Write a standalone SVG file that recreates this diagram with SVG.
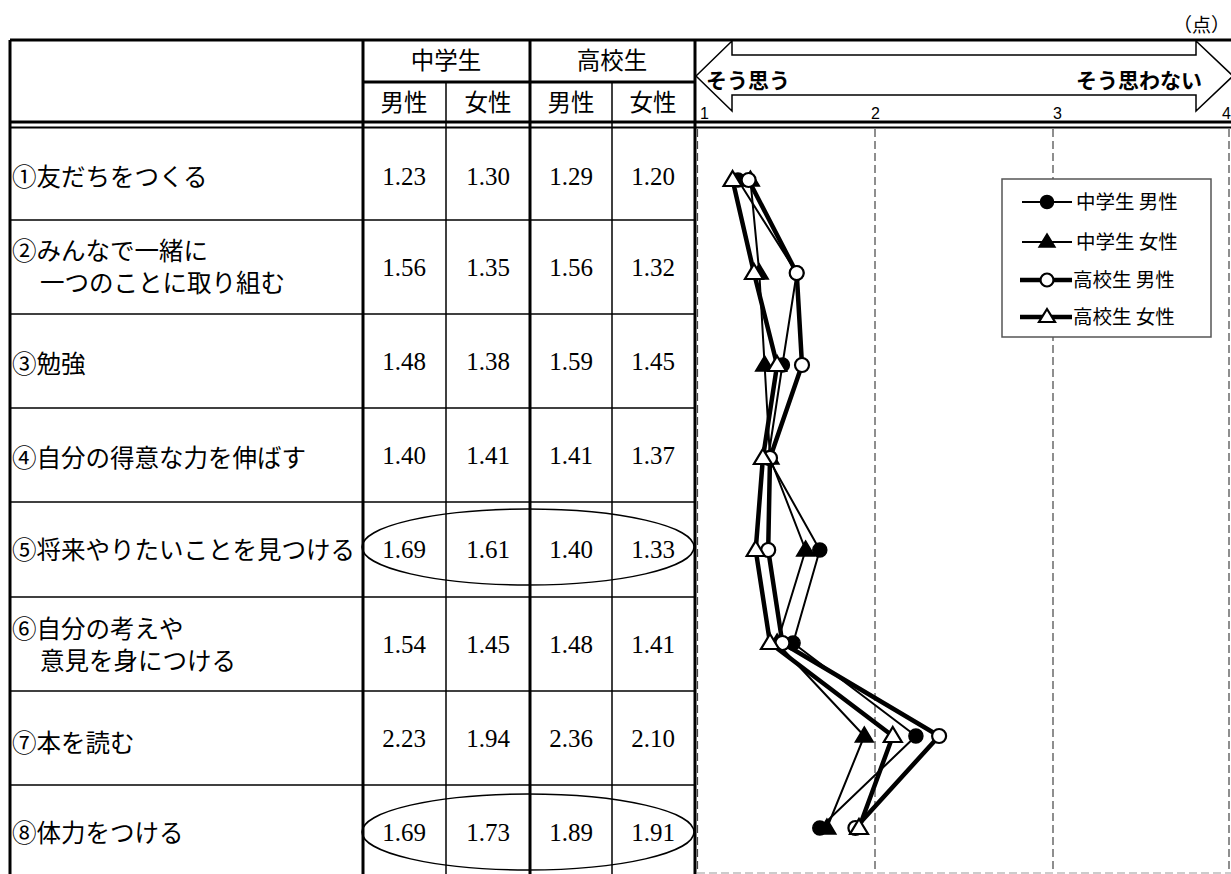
<svg xmlns="http://www.w3.org/2000/svg" xmlns:xlink="http://www.w3.org/1999/xlink" width="1231" height="874" viewBox="0 0 1231 874">
<style>
.jp{font-family:"Noto Sans CJK JP","Noto Sans CJK SC",sans-serif;fill:#000}
.lbl{font-size:24.5px}
.hd{font-size:23.5px;text-anchor:middle}
.num{font-family:"Liberation Serif","DejaVu Serif",serif;font-size:25px;text-anchor:middle;fill:#000}
.ax{font-family:"Liberation Sans","DejaVu Sans",sans-serif;font-size:16px;fill:#000}
.thick{stroke:#000;stroke-width:3;fill:none}
.thin{stroke:#000;stroke-width:1.5;fill:none}
.dash{stroke:#444;stroke-width:1.2;stroke-dasharray:8,4;fill:none}
.dashl{stroke:#999;stroke-width:1.2;stroke-dasharray:8,4;fill:none}
.s1{stroke:#000;stroke-width:2;fill:none;stroke-linejoin:round}
.s2{stroke:#000;stroke-width:4.5;fill:none;stroke-linejoin:round}
.mf{fill:#000;stroke:#000;stroke-width:1.5}
.mo{fill:#fff;stroke:#000;stroke-width:2.2}
</style>
<defs>
<path id="tri" d="M0,-9 L9,6 L-9,6 Z"/>
<path id="trs" d="M0,-8 L8,5 L-8,5 Z"/>
</defs>
<rect width="1231" height="874" fill="#fff"/>

<g id="unit"><text class="jp" x="1230" y="32" font-size="19" text-anchor="end">（点）</text></g>

<g id="chart-grid">
<line class="dash" x1="697.5" y1="129" x2="697.5" y2="873"/>
<line class="dash" x1="875" y1="129" x2="875" y2="873"/>
<line class="dash" x1="1053" y1="129" x2="1053" y2="873"/>
<line class="dash" x1="1229" y1="129" x2="1229" y2="873"/>
<line class="dashl" x1="697" y1="873" x2="1231" y2="873"/>
</g>

<g id="table-grid">
<line class="thick" x1="10" y1="40" x2="1231" y2="40"/>
<line class="thick" x1="10" y1="40" x2="10" y2="874"/>
<line class="thick" x1="363" y1="40" x2="363" y2="874"/>
<line class="thick" x1="530" y1="40" x2="530" y2="874"/>
<line class="thick" x1="695" y1="40" x2="695" y2="874"/>
<line class="thin" x1="446" y1="82" x2="446" y2="874"/>
<line class="thin" x1="612" y1="82" x2="612" y2="874"/>
<line class="thick" x1="363" y1="82" x2="695" y2="82"/>
<line class="thick" x1="10" y1="122" x2="1231" y2="122"/>
<line stroke="#000" stroke-width="2" x1="10" y1="127.5" x2="1231" y2="127.5"/>
<g class="thin">
<line x1="10" y1="220" x2="695" y2="220"/>
<line x1="10" y1="314" x2="695" y2="314"/>
<line x1="10" y1="408" x2="695" y2="408"/>
<line x1="10" y1="502" x2="695" y2="502"/>
<line x1="10" y1="597" x2="695" y2="597"/>
<line x1="10" y1="691" x2="695" y2="691"/>
<line x1="10" y1="785" x2="695" y2="785"/>
</g>
</g>

<g id="header">
<text class="jp hd" x="446" y="69">中学生</text>
<text class="jp hd" x="612" y="69">高校生</text>
<text class="jp hd" x="404" y="111">男性</text>
<text class="jp hd" x="488" y="111">女性</text>
<text class="jp hd" x="571" y="111">男性</text>
<text class="jp hd" x="653" y="111">女性</text>
</g>

<g id="scale-arrow">
<path d="M696,76 L732,41 L732,55 L1196,55 L1196,41 L1233,76 L1196,111 L1196,95 L732,95 L732,111 Z" fill="#fff" stroke="#000" stroke-width="1.5"/>
<text class="jp" x="706" y="88" font-size="21" font-weight="bold">そう思う</text>
<text class="jp" x="1202" y="88" font-size="21" font-weight="bold" text-anchor="end">そう思わない</text>
<text class="ax" x="700" y="119">1</text>
<text class="ax" x="871" y="119">2</text>
<text class="ax" x="1053" y="119">3</text>
<text class="ax" x="1222" y="119">4</text>
</g>

<g id="labels">
<text class="jp lbl" x="12" y="186">①友だちをつくる</text>
<text class="jp lbl" x="12" y="260">②みんなで一緒に</text>
<text class="jp lbl" x="40" y="292">一つのことに取り組む</text>
<text class="jp lbl" x="12" y="373">③勉強</text>
<text class="jp lbl" x="12" y="467">④自分の得意な力を伸ばす</text>
<text class="jp lbl" x="12" y="559">⑤将来やりたいことを見つける</text>
<text class="jp lbl" x="12" y="638">⑥自分の考えや</text>
<text class="jp lbl" x="40" y="670">意見を身につける</text>
<text class="jp lbl" x="12" y="752">⑦本を読む</text>
<text class="jp lbl" x="12" y="842">⑧体力をつける</text>
</g>

<g id="values">
<g id="row1"><text class="num" x="404" y="185">1.23</text><text class="num" x="488" y="185">1.30</text><text class="num" x="571" y="185">1.29</text><text class="num" x="653" y="185">1.20</text></g>
<g id="row2"><text class="num" x="404" y="276">1.56</text><text class="num" x="488" y="276">1.35</text><text class="num" x="571" y="276">1.56</text><text class="num" x="653" y="276">1.32</text></g>
<g id="row3"><text class="num" x="404" y="370">1.48</text><text class="num" x="488" y="370">1.38</text><text class="num" x="571" y="370">1.59</text><text class="num" x="653" y="370">1.45</text></g>
<g id="row4"><text class="num" x="404" y="464">1.40</text><text class="num" x="488" y="464">1.41</text><text class="num" x="571" y="464">1.41</text><text class="num" x="653" y="464">1.37</text></g>
<g id="row5"><text class="num" x="404" y="558">1.69</text><text class="num" x="488" y="558">1.61</text><text class="num" x="571" y="558">1.40</text><text class="num" x="653" y="558">1.33</text></g>
<g id="row6"><text class="num" x="404" y="653">1.54</text><text class="num" x="488" y="653">1.45</text><text class="num" x="571" y="653">1.48</text><text class="num" x="653" y="653">1.41</text></g>
<g id="row7"><text class="num" x="404" y="747">2.23</text><text class="num" x="488" y="747">1.94</text><text class="num" x="571" y="747">2.36</text><text class="num" x="653" y="747">2.10</text></g>
<g id="row8"><text class="num" x="404" y="841">1.69</text><text class="num" x="488" y="841">1.73</text><text class="num" x="571" y="841">1.89</text><text class="num" x="653" y="841">1.91</text></g>
</g>

<g id="highlights">
<ellipse cx="528" cy="547" rx="166" ry="38" fill="none" stroke="#000" stroke-width="1.5"/>
<ellipse cx="528" cy="832" rx="166" ry="38" fill="none" stroke="#000" stroke-width="1.5"/>
</g>

<g id="series">
<g id="s-jhm">
<polyline class="s1" points="737.9,180 796.7,273 782.4,365 768.2,458 819.8,550 793.1,643 915.9,736 819.8,828"/>
<g class="mf"><circle cx="737.9" cy="180" r="7"/><circle cx="796.7" cy="273" r="7"/><circle cx="782.4" cy="365" r="7"/><circle cx="768.2" cy="458" r="7"/><circle cx="819.8" cy="550" r="7"/><circle cx="793.1" cy="643" r="7"/><circle cx="915.9" cy="736" r="7"/><circle cx="819.8" cy="828" r="7"/></g>
</g>
<g id="s-jhf">
<polyline class="s1" points="750.4,180 759.3,273 764.6,365 770,458 805.6,550 777.1,643 864.3,736 826.9,828"/>
<g class="mf"><use xlink:href="#tri" x="750.4" y="180"/><use xlink:href="#tri" x="759.3" y="273"/><use xlink:href="#tri" x="764.6" y="365"/><use xlink:href="#tri" x="770" y="458"/><use xlink:href="#tri" x="805.6" y="550"/><use xlink:href="#tri" x="777.1" y="643"/><use xlink:href="#tri" x="864.3" y="736"/><use xlink:href="#tri" x="826.9" y="828"/></g>
</g>
<g id="s-hsm">
<polyline class="s2" points="748.6,180 796.7,273 802,365 770,458 768.2,550 782.4,643 939.1,736 855.4,828"/>
<g class="mo"><circle cx="748.6" cy="180" r="7"/><circle cx="796.7" cy="273" r="7"/><circle cx="802" cy="365" r="7"/><circle cx="770" cy="458" r="7"/><circle cx="768.2" cy="550" r="7"/><circle cx="782.4" cy="643" r="7"/><circle cx="939.1" cy="736" r="7"/><circle cx="855.4" cy="828" r="7"/></g>
</g>
<g id="s-hsf">
<polyline class="s2" points="732.6,180 754,273 777.1,365 762.9,458 755.7,550 770,643 892.8,736 859,828"/>
<g class="mo"><use xlink:href="#tri" x="732.6" y="180"/><use xlink:href="#tri" x="754" y="273"/><use xlink:href="#tri" x="777.1" y="365"/><use xlink:href="#tri" x="762.9" y="458"/><use xlink:href="#tri" x="755.7" y="550"/><use xlink:href="#tri" x="770" y="643"/><use xlink:href="#tri" x="892.8" y="736"/><use xlink:href="#tri" x="859" y="828"/></g>
</g>
</g>

<g id="legend">
<rect x="1002" y="179" width="209" height="158" fill="#fff" stroke="#555" stroke-width="1.5"/>
<g id="leg1"><line class="s1" x1="1022" y1="202" x2="1072" y2="202"/><circle class="mf" cx="1047" cy="202" r="6.5"/><text class="jp" x="1076" y="209" font-size="19.5">中学生 男性</text></g>
<g id="leg2"><line class="s1" x1="1022" y1="242" x2="1072" y2="242"/><use class="mf" xlink:href="#trs" x="1047" y="242"/><text class="jp" x="1076" y="249" font-size="19.5">中学生 女性</text></g>
<g id="leg3"><line class="s2" x1="1020" y1="280" x2="1072" y2="280"/><circle class="mo" cx="1047" cy="280" r="6.5"/><text class="jp" x="1073" y="287" font-size="19.5">高校生 男性</text></g>
<g id="leg4"><line class="s2" x1="1020" y1="317" x2="1072" y2="317"/><use class="mo" xlink:href="#trs" x="1047" y="317"/><text class="jp" x="1073" y="324" font-size="19.5">高校生 女性</text></g>
</g>
</svg>
